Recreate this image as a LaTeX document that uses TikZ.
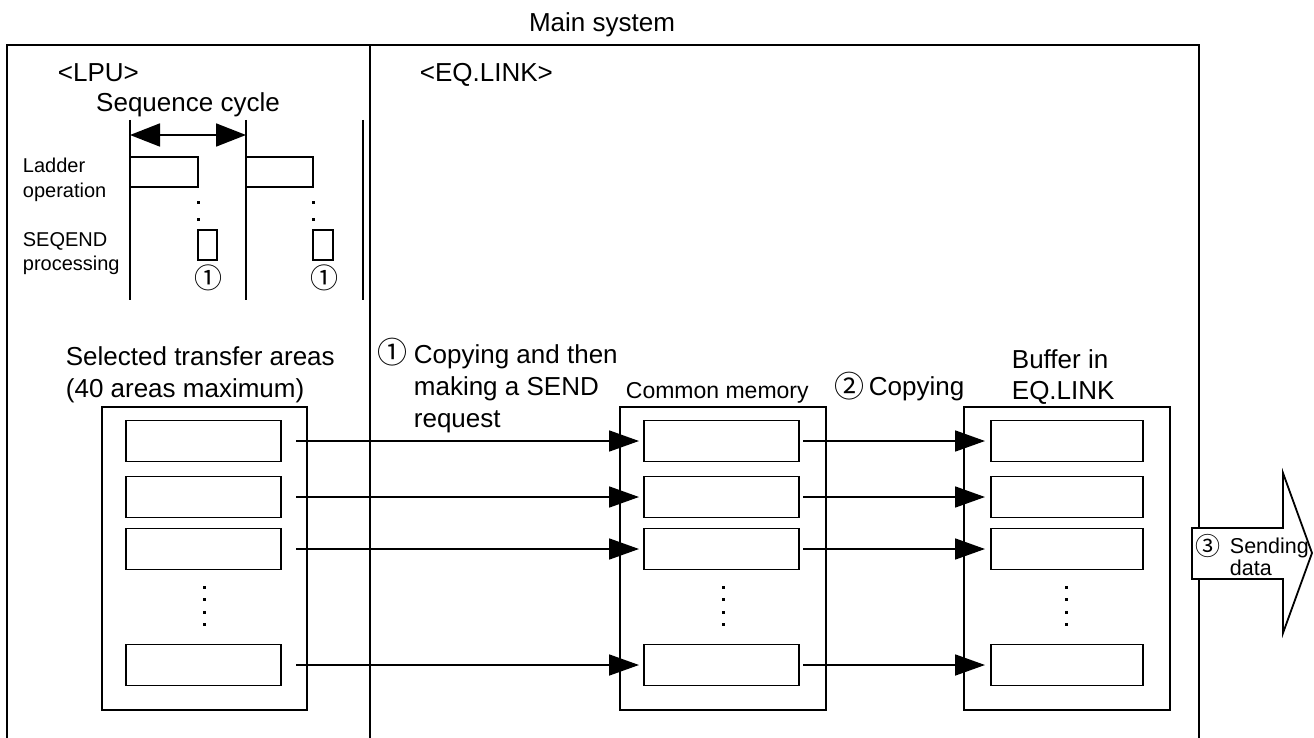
\documentclass[tikz,border=0pt]{standalone}
\usepackage{fontspec}
\setmainfont{Liberation Sans}
\newfontfamily\circfont{Noto Sans CJK JP}
\usetikzlibrary{arrows.meta}
\begin{document}
\begin{tikzpicture}[x=1pt,y=-1pt,line width=1.8pt,
  tbig/.style={inner sep=0pt,anchor=base west,font=\fontsize{26}{32}\selectfont},
  tmid/.style={inner sep=0pt,anchor=base west,font=\fontsize{23}{28}\selectfont},
  tsml/.style={inner sep=0pt,anchor=base west,font=\fontsize{20}{24}\selectfont},
  tsnd/.style={inner sep=0pt,anchor=base west,font=\fontsize{21.5}{24}\selectfont},
  cbig/.style={inner sep=0pt,anchor=center,font=\circfont\fontsize{30}{32}\selectfont},
  csnd/.style={inner sep=0pt,anchor=center,font=\circfont\fontsize{25}{28}\selectfont},
  cmark/.style={inner sep=0pt,anchor=center,font=\circfont\fontsize{28}{30}\selectfont},
  cell/.style={draw,inner sep=0pt,outer sep=0pt,minimum width=155pt,minimum height=41pt},
  group/.style={draw,inner sep=0pt,outer sep=0pt,minimum width=206pt,minimum height=303pt},
  arr/.style={-{Triangle[length=30pt,width=21pt]}}]
\useasboundingbox (0,0) rectangle (1314,738);

% frame
\draw (7,738) -- (7,45) -- (1199,45) -- (1199,738);
\draw (370,45) -- (370,738);

% titles
\node[tbig,anchor=base] (title) at (602,32) {Main system};
\node[tbig] (lpu) at (57,82) {<LPU>};
\node[tbig] (eql) at (419,82) {<EQ.LINK>};

% sequence cycle
\node[tbig,anchor=base] (seq) at (188,112) {Sequence cycle};
\draw (130,120) -- (130,300);
\draw (246,120) -- (246,300);
\draw (363,120) -- (363,300);
\coordinate (t1) at (130,135);
\coordinate (t2) at (246,135);
\draw[{Triangle[length=30pt,width=23pt]}-{Triangle[length=30pt,width=23pt]}] (t1) -- (t2);
\draw (130,157) rectangle (198,187);
\draw (246,157) rectangle (313,187);
\foreach \x in {198,313}{
  \fill (\x-1.5,201.5) rectangle (\x+1.5,204.5);
  \fill (\x-1.5,218.5) rectangle (\x+1.5,221.5);
}
\draw (198,230) rectangle (217,260);
\draw (313,230) rectangle (333,260);
\node[cmark] (m1) at (208,278) {①};
\node[cmark] (m2) at (324,278) {①};
\node[tsml] (lad1) at (22,173) {Ladder};
\node[tsml] (lad2) at (22,197) {operation};
\node[tsml] (sq1) at (22,247) {SEQEND};
\node[tsml] (sq2) at (22,270) {processing};

% labels above groups
\node[tbig] (sel1) at (65,365) {Selected transfer areas};
\node[tbig] (sel2) at (65,397) {(40 areas maximum)};
\node[cbig] (n1) at (392,352) {①};
\node[tbig] (cp1) at (413,363) {Copying and then};
\node[tbig] (cp2) at (413,395) {making a SEND};
\node[tbig] (cp3) at (413,427) {request};
\node[tmid] (cm) at (625,398) {Common memory};
\node[cbig] (n2) at (849,386) {②};
\node[tbig] (cp4) at (868,395) {Copying};
\node[tbig] (buf1) at (1011,368) {Buffer in};
\node[tbig] (buf2) at (1011,399) {EQ.LINK};

% groups
\node[group,minimum width=205pt] (gs) at (204.5,558.5) {};
\node[group] (gc) at (723,558.5) {};
\node[group] (gb) at (1067,558.5) {};

\foreach \n/\y in {1/441,2/497,3/549,4/665}{
  \node[cell] (s\n) at (203.5,\y) {};
  \node[cell] (c\n) at (721.5,\y) {};
  \node[cell,minimum width=152pt] (b\n) at (1067,\y) {};
  \draw[arr,shorten <=15pt,shorten >=5pt] (s\n.east) -- (c\n.west);
  \draw[arr,shorten <=4pt,shorten >=6pt] (c\n.east) -- (b\n.west);
}
\foreach \x in {204,723,1066}{
  \foreach \y in {587,599.5,612,624}{
    \fill (\x-1.5,\y-1.5) rectangle (\x+1.5,\y+1.5);
  }
}

% sending arrow
\draw[fill=white] (1192,528) -- (1283,528) -- (1283,473) -- (1312,553) -- (1283,633) -- (1283,579) -- (1192,579) -- cycle;
\node[csnd] (n3) at (1208,546) {③};
\node[tsnd] (snd1) at (1229,553) {Sending};
\node[tsnd] (snd2) at (1229,575) {data};
\end{tikzpicture}
\end{document}
